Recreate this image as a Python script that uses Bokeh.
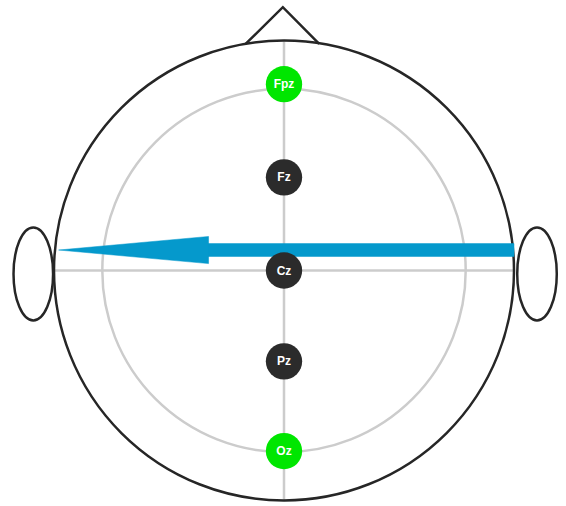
from bokeh.plotting import figure
from bokeh.models import Range1d
from bokeh.core.properties import value
from bokeh.embed import file_html
from bokeh.resources import INLINE

# ---- data (head-normalised units: head radius = 1, centre = Cz) ----
electrode_names = ["Fpz", "Fz", "Cz", "Pz", "Oz"]
electrode_x = [0.0, 0.0, 0.0, 0.0, 0.0]
electrode_y = [0.81, 0.405, 0.0, -0.395, -0.785]
electrode_colors = ["#00e600", "#2b2b2b", "#2b2b2b", "#2b2b2b", "#00e600"]
electrode_radius = 0.079

head_radius = 1.0
inner_radius = 0.79
nose_x = [-0.167, -0.005, 0.153]
nose_y = [0.985, 1.145, 0.985]
ear_x = [-1.09, 1.10]
ear_y = [-0.015, -0.015]
ear_w = 0.172
ear_h = 0.404

arrow_start = (1.0, 0.089)
arrow_tip = (-0.98, 0.089)
arrow_head_len = 0.647
arrow_head_half = 0.059
arrow_shaft_half = 0.028
arrow_color = "#0599cc"

W, H = 566, 506
scale = 230.0
cx_px, cy_px = 283.5, 270.0

p = figure(width=W, height=H, output_backend="svg", toolbar_location=None,
           x_range=Range1d(-cx_px / scale, (W - cx_px) / scale),
           y_range=Range1d(-(H - cy_px) / scale, cy_px / scale),
           min_border=0)
p.axis.visible = False
p.grid.visible = False
p.outline_line_color = None
p.background_fill_color = "white"

# gray cross lines and inner circle
p.segment(x0=[0, -head_radius], y0=[-head_radius, 0], x1=[0, head_radius], y1=[head_radius, 0],
          line_color="#cccccc", line_width=2.5)
p.ellipse(x=[0], y=[0], width=2 * inner_radius, height=2 * inner_radius,
          fill_color=None, line_color="#cccccc", line_width=2.5)

# head
p.ellipse(x=[0], y=[0], width=2 * head_radius, height=2 * head_radius,
          fill_color=None, line_color="#262626", line_width=2.5)
p.line(nose_x, nose_y, line_color="#262626", line_width=2.5, line_join="miter")
p.ellipse(x=ear_x, y=ear_y, width=ear_w, height=ear_h,
          fill_color=None, line_color="#262626", line_width=2.5)

# arrow
base_x = arrow_tip[0] + arrow_head_len
ay = arrow_tip[1]
p.patch([arrow_start[0], arrow_start[0], base_x, base_x],
        [ay + arrow_shaft_half, ay - arrow_shaft_half, ay - arrow_shaft_half, ay + arrow_shaft_half],
        fill_color=arrow_color, line_color=arrow_color, line_width=0.5)
p.patch([arrow_tip[0], base_x + 0.005, base_x + 0.005],
        [ay, ay + arrow_head_half, ay - arrow_head_half],
        fill_color=arrow_color, line_color=arrow_color, line_width=0.5)

# electrodes
p.ellipse(x=electrode_x, y=electrode_y, width=2 * electrode_radius, height=2 * electrode_radius,
          fill_color=electrode_colors, line_color=None)
p.text(x=electrode_x, y=electrode_y, text=electrode_names, text_color="white",
       text_font=value("Liberation Sans"), text_font_style="bold", text_font_size="12px",
       text_align="center", text_baseline="middle")

open("out.html", "w").write(file_html(p, INLINE))
